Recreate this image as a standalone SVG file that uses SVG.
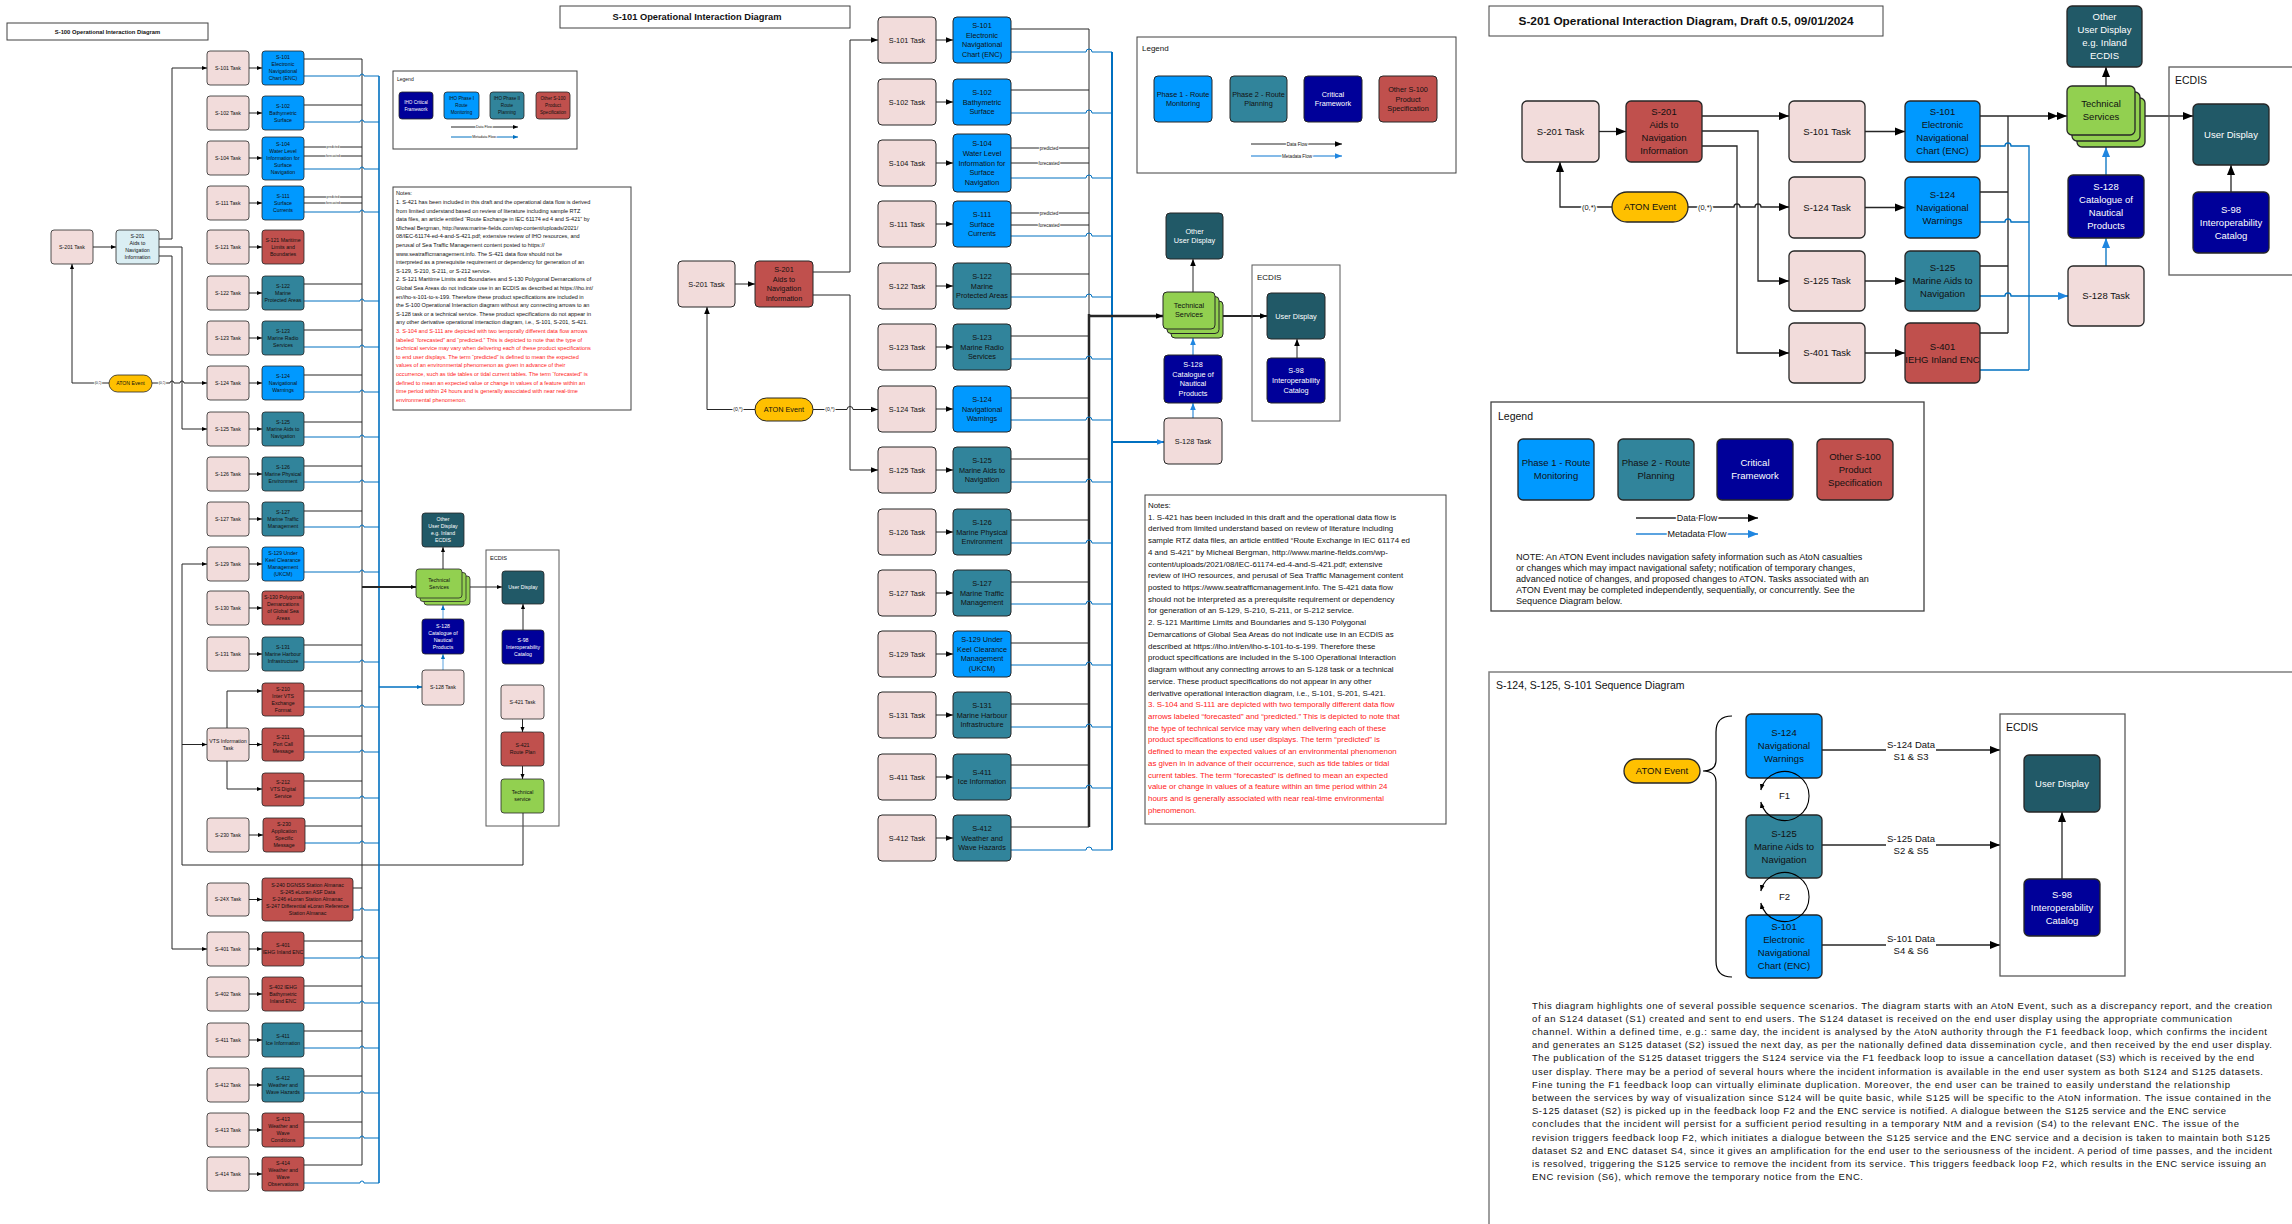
<svg xmlns="http://www.w3.org/2000/svg" width="2292" height="1224" viewBox="0 0 2292 1224">
<style>
text{font-family:"Liberation Sans",Arial,sans-serif;fill:#111}
.c{text-anchor:middle}
.w{fill:#fff}
.b{font-weight:bold}
.red{fill:#FF2020}
.tk{fill:#F2DCDB}.bu{fill:#0099FF}.te{fill:#31849B}.re{fill:#C0504D}.nv{fill:#000099}.dt{fill:#215967}.gr{fill:#92D050}.ye{fill:#FFC000}.lb{fill:#DAEEF3}
rect.n{stroke:#262626}
.L rect.n{stroke-width:.8}.M rect.n{stroke-width:1}.R rect.n{stroke-width:1.3}
.fr{fill:#fff;stroke:#404040}
.ec{fill:none;stroke:#595959}
.ln{fill:none;stroke:#262626}
.bl{fill:none;stroke:#0070C0}
.lbl{fill:none;stroke:#5BA3E0}
.halo{paint-order:stroke;stroke:#fff;stroke-linejoin:round}
.L text{font-size:5.2px}
.M text{font-size:7.3px}
.R text{font-size:9.5px}
</style>
<defs>
<marker id="aL" viewBox="0 0 10 10" refX="10" refY="5" markerWidth="5" markerHeight="5" markerUnits="userSpaceOnUse" orient="auto"><path d="M0,1L10,5L0,9z" fill="#000"/></marker>
<marker id="aLb" viewBox="0 0 10 10" refX="10" refY="5" markerWidth="5" markerHeight="5" markerUnits="userSpaceOnUse" orient="auto"><path d="M0,1L10,5L0,9z" fill="#0070C0"/></marker>
<marker id="aM" viewBox="0 0 10 10" refX="10" refY="5" markerWidth="7" markerHeight="7" markerUnits="userSpaceOnUse" orient="auto"><path d="M0,1L10,5L0,9z" fill="#000"/></marker>
<marker id="aMb" viewBox="0 0 10 10" refX="10" refY="5" markerWidth="7" markerHeight="7" markerUnits="userSpaceOnUse" orient="auto"><path d="M0,1L10,5L0,9z" fill="#1F86E0"/></marker>
<marker id="aR" viewBox="0 0 10 10" refX="10" refY="5" markerWidth="10" markerHeight="10" markerUnits="userSpaceOnUse" orient="auto"><path d="M0,1L10,5L0,9z" fill="#000"/></marker>
<marker id="aRb" viewBox="0 0 10 10" refX="10" refY="5" markerWidth="10" markerHeight="10" markerUnits="userSpaceOnUse" orient="auto"><path d="M0,1L10,5L0,9z" fill="#1F86E0"/></marker>
<marker id="aF" viewBox="0 0 10 10" refX="10" refY="5" markerWidth="6" markerHeight="6" markerUnits="userSpaceOnUse" orient="auto-start-reverse"><path d="M0,1L10,5L0,9z" fill="#000"/></marker>
</defs>
<rect width="2292" height="1224" fill="#fff"/>

<!-- ================= LEFT PANEL ================= -->
<g class="L">
<g id="connectors-left">
<path class="ln" d="M249,68H262" marker-end="url(#aL)"/>
<path class="ln" d="M249,113H262" marker-end="url(#aL)"/>
<path class="ln" d="M249,158H262" marker-end="url(#aL)"/>
<path class="ln" d="M249,203H262" marker-end="url(#aL)"/>
<path class="ln" d="M249,247H262" marker-end="url(#aL)"/>
<path class="ln" d="M249,293H262" marker-end="url(#aL)"/>
<path class="ln" d="M249,338H262" marker-end="url(#aL)"/>
<path class="ln" d="M249,383H262" marker-end="url(#aL)"/>
<path class="ln" d="M249,429H262" marker-end="url(#aL)"/>
<path class="ln" d="M249,474H262" marker-end="url(#aL)"/>
<path class="ln" d="M249,519H262" marker-end="url(#aL)"/>
<path class="ln" d="M249,564H262" marker-end="url(#aL)"/>
<path class="ln" d="M249,608H262" marker-end="url(#aL)"/>
<path class="ln" d="M249,654H262" marker-end="url(#aL)"/>
<path class="ln" d="M249,744.5H262" marker-end="url(#aL)"/>
<path class="ln" d="M249,835H263" marker-end="url(#aL)"/>
<path class="ln" d="M249,899.5H262" marker-end="url(#aL)"/>
<path class="ln" d="M249,949H262" marker-end="url(#aL)"/>
<path class="ln" d="M249,994H262" marker-end="url(#aL)"/>
<path class="ln" d="M249,1040H262" marker-end="url(#aL)"/>
<path class="ln" d="M249,1085H262" marker-end="url(#aL)"/>
<path class="ln" d="M249,1130H262" marker-end="url(#aL)"/>
<path class="ln" d="M249,1174H262" marker-end="url(#aL)"/>
<path class="ln" d="M227,728V691H262" marker-end="url(#aL)"/>
<path class="ln" d="M227,761V789H262" marker-end="url(#aL)"/>
<path class="ln" d="M93,247H116" marker-end="url(#aL)"/>
<path class="ln" d="M159,239H172V68H207" marker-end="url(#aL)"/>
<path class="ln" d="M159,247H182V429H207" marker-end="url(#aL)"/>
<path class="ln" d="M159,256H172V949H207" marker-end="url(#aL)"/>
<path class="ln" d="M109,383H72V264" marker-end="url(#aL)"/>
<path class="ln" d="M152,383H170a2,2 0 0 1 4,0H180a2,2 0 0 1 4,0H207" marker-end="url(#aL)"/>
<text class="c halo" x="98" y="384.3" style="font-size:3.5px;stroke-width:1.5px">(0,*)</text>
<text class="c halo" x="162" y="384.3" style="font-size:3.5px;stroke-width:1.5px">(0,*)</text>
<path class="ln" d="M523,813V865H182V564H207" marker-end="url(#aL)"/>
<path class="ln" d="M182,744.5H207" marker-end="url(#aL)"/>
<path class="ln" d="M304,59H362M304,105H362M304,147H362M304,156H362M304,197H362M304,203H362M304,284H362M304,330H362M304,375H362M304,422H362M304,466H362M304,511H362M304,645H362M304,691H362M304,736H362M304,781H362M305,826H362M353,888H362M304,941H362M304,986H362M304,1031H362M304,1076H362M304,1122H362M304,1165H362M362,59V1165" stroke-width="1"/>
<text class="c halo" x="333" y="148" style="font-size:3px;stroke-width:1.2px">predicted</text>
<text class="c halo" x="333" y="157" style="font-size:3px;stroke-width:1.2px">forecasted</text>
<text class="c halo" x="333" y="198" style="font-size:3px;stroke-width:1.2px">predicted</text>
<text class="c halo" x="333" y="204" style="font-size:3px;stroke-width:1.2px">forecasted</text>
<path class="bl" d="M304,76H360a2,2 0 0 1 4,0H379M304,122H360a2,2 0 0 1 4,0H379M304,169H360a2,2 0 0 1 4,0H379M304,212H360a2,2 0 0 1 4,0H379M304,301H360a2,2 0 0 1 4,0H379M304,347H360a2,2 0 0 1 4,0H379M304,392H360a2,2 0 0 1 4,0H379M304,437H360a2,2 0 0 1 4,0H379M304,482H360a2,2 0 0 1 4,0H379M304,527H360a2,2 0 0 1 4,0H379M304,572H360a2,2 0 0 1 4,0H379M304,662H360a2,2 0 0 1 4,0H379M304,707H360a2,2 0 0 1 4,0H379M304,752H360a2,2 0 0 1 4,0H379M304,798H360a2,2 0 0 1 4,0H379M305,843H360a2,2 0 0 1 4,0H379M353,910H360a2,2 0 0 1 4,0H379M304,958H360a2,2 0 0 1 4,0H379M304,1003H360a2,2 0 0 1 4,0H379M304,1048H360a2,2 0 0 1 4,0H379M304,1093H360a2,2 0 0 1 4,0H379M304,1138H360a2,2 0 0 1 4,0H379M304,1183H360a2,2 0 0 1 4,0H379"/>
<path class="bl" d="M379,76V1183" stroke-width="1.6"/>
<path class="ln" d="M362,587H416" stroke="#000" stroke-width="1.8" marker-end="url(#aL)"/>
<path class="bl" d="M379,687H422" stroke-width="1.4" marker-end="url(#aLb)"/>
<path class="ln" d="M443,569V547" stroke="#595959" marker-end="url(#aL)"/>
<path class="ln" d="M470,587H502" stroke="#595959" marker-end="url(#aL)"/>
<path class="ln" d="M523,630V604" marker-end="url(#aL)"/>
<path class="ln" d="M522.5,719V732" marker-end="url(#aL)"/>
<path class="ln" d="M522.5,766V779" marker-end="url(#aL)"/>
<path class="lbl" d="M443,670V654" marker-end="url(#aLb)"/>
<path class="lbl" d="M443,619V605" marker-end="url(#aLb)"/>
</g>

<g id="L-title"><rect class="fr" x="7" y="23" width="201" height="17"/><text class="c b" x="107.5" y="33.5" style="font-size:5.8px">S-100 Operational Interaction Diagram</text></g>

<g id="L-t201"><rect class="n tk" x="51" y="230" width="42" height="34" rx="3"/><text class="c" x="72" y="248.8">S-201 Task</text></g>
<g id="L-p201"><rect class="n lb" x="116" y="230" width="43" height="34" rx="3"/><text class="c" x="137.5" y="238.3">S-201<tspan x="137.5" dy="7">Aids to</tspan><tspan x="137.5" dy="7">Navigation</tspan><tspan x="137.5" dy="7">Information</tspan></text></g>
<g id="L-aton"><rect class="n ye" x="109" y="375" width="43" height="17" rx="8.5"/><text class="c" x="130.5" y="385.3">ATON Event</text></g>

<g id="L-t101"><rect class="n tk" x="207" y="51" width="42" height="34" rx="3"/><text class="c" x="228" y="69.8">S-101 Task</text></g>
<g id="L-t102"><rect class="n tk" x="207" y="96" width="42" height="34" rx="3"/><text class="c" x="228" y="114.8">S-102 Task</text></g>
<g id="L-t104"><rect class="n tk" x="207" y="141" width="42" height="34" rx="3"/><text class="c" x="228" y="159.8">S-104 Task</text></g>
<g id="L-t111"><rect class="n tk" x="207" y="186" width="42" height="34" rx="3"/><text class="c" x="228" y="204.8">S-111 Task</text></g>
<g id="L-t121"><rect class="n tk" x="207" y="230" width="42" height="34" rx="3"/><text class="c" x="228" y="248.8">S-121 Task</text></g>
<g id="L-t122"><rect class="n tk" x="207" y="276" width="42" height="34" rx="3"/><text class="c" x="228" y="294.8">S-122 Task</text></g>
<g id="L-t123"><rect class="n tk" x="207" y="321" width="42" height="34" rx="3"/><text class="c" x="228" y="339.8">S-123 Task</text></g>
<g id="L-t124"><rect class="n tk" x="207" y="366" width="42" height="34" rx="3"/><text class="c" x="228" y="384.8">S-124 Task</text></g>
<g id="L-t125"><rect class="n tk" x="207" y="412" width="42" height="34" rx="3"/><text class="c" x="228" y="430.8">S-125 Task</text></g>
<g id="L-t126"><rect class="n tk" x="207" y="457" width="42" height="34" rx="3"/><text class="c" x="228" y="475.8">S-126 Task</text></g>
<g id="L-t127"><rect class="n tk" x="207" y="502" width="42" height="34" rx="3"/><text class="c" x="228" y="520.8">S-127 Task</text></g>
<g id="L-t129"><rect class="n tk" x="207" y="547" width="42" height="34" rx="3"/><text class="c" x="228" y="565.8">S-129 Task</text></g>
<g id="L-t130"><rect class="n tk" x="207" y="591" width="42" height="34" rx="3"/><text class="c" x="228" y="609.8">S-130 Task</text></g>
<g id="L-t131"><rect class="n tk" x="207" y="637" width="42" height="34" rx="3"/><text class="c" x="228" y="655.8">S-131 Task</text></g>
<g id="L-tvts"><rect class="n tk" x="207" y="728" width="42" height="33" rx="3"/><text class="c" x="228" y="742.8">VTS Information<tspan x="228" dy="7">Task</tspan></text></g>
<g id="L-t230"><rect class="n tk" x="207" y="818" width="42" height="34" rx="3"/><text class="c" x="228" y="836.8">S-230 Task</text></g>
<g id="L-t24x"><rect class="n tk" x="207" y="883" width="42" height="33" rx="3"/><text class="c" x="228" y="901.3">S-24X Task</text></g>
<g id="L-t401"><rect class="n tk" x="207" y="932" width="42" height="34" rx="3"/><text class="c" x="228" y="950.8">S-401 Task</text></g>
<g id="L-t402"><rect class="n tk" x="207" y="977" width="42" height="34" rx="3"/><text class="c" x="228" y="995.8">S-402 Task</text></g>
<g id="L-t411"><rect class="n tk" x="207" y="1023" width="42" height="34" rx="3"/><text class="c" x="228" y="1041.8">S-411 Task</text></g>
<g id="L-t412"><rect class="n tk" x="207" y="1068" width="42" height="34" rx="3"/><text class="c" x="228" y="1086.8">S-412 Task</text></g>
<g id="L-t413"><rect class="n tk" x="207" y="1113" width="42" height="34" rx="3"/><text class="c" x="228" y="1131.8">S-413 Task</text></g>
<g id="L-t414"><rect class="n tk" x="207" y="1157" width="42" height="34" rx="3"/><text class="c" x="228" y="1175.8">S-414 Task</text></g>

<g id="L-p101"><rect class="n bu" x="262" y="51" width="42" height="34" rx="3"/><text class="c" x="283" y="59.3">S-101<tspan x="283" dy="7">Electronic</tspan><tspan x="283" dy="7">Navigational</tspan><tspan x="283" dy="7">Chart (ENC)</tspan></text></g>
<g id="L-p102"><rect class="n bu" x="262" y="96" width="42" height="34" rx="3"/><text class="c" x="283" y="107.8">S-102<tspan x="283" dy="7">Bathymetric</tspan><tspan x="283" dy="7">Surface</tspan></text></g>
<g id="L-p104"><rect class="n bu" x="262" y="137" width="42" height="43" rx="3"/><text class="c" x="283" y="146.3">S-104<tspan x="283" dy="7">Water Level</tspan><tspan x="283" dy="7">Information for</tspan><tspan x="283" dy="7">Surface</tspan><tspan x="283" dy="7">Navigation</tspan></text></g>
<g id="L-p111"><rect class="n bu" x="262" y="186" width="42" height="34" rx="3"/><text class="c" x="283" y="197.8">S-111<tspan x="283" dy="7">Surface</tspan><tspan x="283" dy="7">Currents</tspan></text></g>
<g id="L-p121"><rect class="n re" x="262" y="230" width="42" height="34" rx="3"/><text class="c" x="283" y="241.8">S-121 Maritime<tspan x="283" dy="7">Limits and</tspan><tspan x="283" dy="7">Boundaries</tspan></text></g>
<g id="L-p122"><rect class="n te" x="262" y="276" width="42" height="34" rx="3"/><text class="c" x="283" y="287.8">S-122<tspan x="283" dy="7">Marine</tspan><tspan x="283" dy="7">Protected Areas</tspan></text></g>
<g id="L-p123"><rect class="n te" x="262" y="321" width="42" height="34" rx="3"/><text class="c" x="283" y="332.8">S-123<tspan x="283" dy="7">Marine Radio</tspan><tspan x="283" dy="7">Services</tspan></text></g>
<g id="L-p124"><rect class="n bu" x="262" y="366" width="42" height="34" rx="3"/><text class="c" x="283" y="377.8">S-124<tspan x="283" dy="7">Navigational</tspan><tspan x="283" dy="7">Warnings</tspan></text></g>
<g id="L-p125"><rect class="n te" x="262" y="412" width="42" height="34" rx="3"/><text class="c" x="283" y="423.8">S-125<tspan x="283" dy="7">Marine Aids to</tspan><tspan x="283" dy="7">Navigation</tspan></text></g>
<g id="L-p126"><rect class="n te" x="262" y="457" width="42" height="34" rx="3"/><text class="c" x="283" y="468.8">S-126<tspan x="283" dy="7">Marine Physical</tspan><tspan x="283" dy="7">Environment</tspan></text></g>
<g id="L-p127"><rect class="n te" x="262" y="502" width="42" height="34" rx="3"/><text class="c" x="283" y="513.8">S-127<tspan x="283" dy="7">Marine Traffic</tspan><tspan x="283" dy="7">Management</tspan></text></g>
<g id="L-p129"><rect class="n bu" x="262" y="547" width="42" height="34" rx="3"/><text class="c" x="283" y="555.3">S-129 Under<tspan x="283" dy="7">Keel Clearance</tspan><tspan x="283" dy="7">Management</tspan><tspan x="283" dy="7">(UKCM)</tspan></text></g>
<g id="L-p130"><rect class="n re" x="262" y="591" width="42" height="34" rx="3"/><text class="c" x="283" y="599.3">S-130 Polygonal<tspan x="283" dy="7">Demarcations</tspan><tspan x="283" dy="7">of Global Sea</tspan><tspan x="283" dy="7">Areas</tspan></text></g>
<g id="L-p131"><rect class="n te" x="262" y="637" width="42" height="34" rx="3"/><text class="c" x="283" y="648.8">S-131<tspan x="283" dy="7">Marine Harbour</tspan><tspan x="283" dy="7">Infrastructure</tspan></text></g>
<g id="L-p210"><rect class="n re" x="262" y="683" width="42" height="33" rx="3"/><text class="c" x="283" y="690.8">S-210<tspan x="283" dy="7">Inter VTS</tspan><tspan x="283" dy="7">Exchange</tspan><tspan x="283" dy="7">Format</tspan></text></g>
<g id="L-p211"><rect class="n re" x="262" y="728" width="42" height="33" rx="3"/><text class="c" x="283" y="739.3">S-211<tspan x="283" dy="7">Port Call</tspan><tspan x="283" dy="7">Message</tspan></text></g>
<g id="L-p212"><rect class="n re" x="262" y="773" width="42" height="33" rx="3"/><text class="c" x="283" y="784.3">S-212<tspan x="283" dy="7">VTS Digital</tspan><tspan x="283" dy="7">Service</tspan></text></g>
<g id="L-p230"><rect class="n re" x="263" y="818" width="42" height="34" rx="3"/><text class="c" x="284" y="826.3">S-230<tspan x="284" dy="7">Application</tspan><tspan x="284" dy="7">Specific</tspan><tspan x="284" dy="7">Message</tspan></text></g>
<g id="L-p24x"><rect class="n re" x="262" y="878" width="91" height="43" rx="3"/><text class="c" x="307.5" y="887.3">S-240 DGNSS Station Almanac<tspan x="307.5" dy="7">S-245 eLoran ASF Data</tspan><tspan x="307.5" dy="7">S-246 eLoran Station Almanac</tspan><tspan x="307.5" dy="7">S-247 Differential eLoran Reference</tspan><tspan x="307.5" dy="7">Station Almanac</tspan></text></g>
<g id="L-p401"><rect class="n re" x="262" y="932" width="42" height="34" rx="3"/><text class="c" x="283" y="947.3">S-401<tspan x="283" dy="7">IEHG Inland ENC</tspan></text></g>
<g id="L-p402"><rect class="n re" x="262" y="977" width="42" height="34" rx="3"/><text class="c" x="283" y="988.8">S-402 IEHG<tspan x="283" dy="7">Bathymetric</tspan><tspan x="283" dy="7">Inland ENC</tspan></text></g>
<g id="L-p411"><rect class="n te" x="262" y="1023" width="42" height="34" rx="3"/><text class="c" x="283" y="1038.3">S-411<tspan x="283" dy="7">Ice Information</tspan></text></g>
<g id="L-p412"><rect class="n te" x="262" y="1068" width="42" height="34" rx="3"/><text class="c" x="283" y="1079.8">S-412<tspan x="283" dy="7">Weather and</tspan><tspan x="283" dy="7">Wave Hazards</tspan></text></g>
<g id="L-p413"><rect class="n re" x="262" y="1113" width="42" height="34" rx="3"/><text class="c" x="283" y="1121.3">S-413<tspan x="283" dy="7">Weather and</tspan><tspan x="283" dy="7">Wave</tspan><tspan x="283" dy="7">Conditions</tspan></text></g>
<g id="L-p414"><rect class="n re" x="262" y="1157" width="42" height="34" rx="3"/><text class="c" x="283" y="1165.3">S-414<tspan x="283" dy="7">Weather and</tspan><tspan x="283" dy="7">Wave</tspan><tspan x="283" dy="7">Observations</tspan></text></g>

<g id="L-legend">
<rect class="fr" x="393" y="71" width="184" height="78"/>
<text x="397" y="80.5" style="font-size:5px">Legend</text>
<rect class="n nv" x="399" y="92" width="34" height="27" rx="3"/><text class="c w" x="416" y="103.6" style="font-size:4.6px">IHO Critical<tspan x="416" dy="7">Framework</tspan></text>
<rect class="n bu" x="444" y="92" width="35" height="27" rx="3"/><text class="c" x="461.5" y="100.1" style="font-size:4.6px">IHO Phase I<tspan x="461.5" dy="7">Route</tspan><tspan x="461.5" dy="7">Monitoring</tspan></text>
<rect class="n te" x="490" y="92" width="34" height="27" rx="3"/><text class="c" x="507" y="100.1" style="font-size:4.6px">IHO Phase II<tspan x="507" dy="7">Route</tspan><tspan x="507" dy="7">Planning</tspan></text>
<rect class="n re" x="536" y="92" width="34" height="27" rx="3"/><text class="c" x="553" y="100.1" style="font-size:4.6px">Other S-100<tspan x="553" dy="7">Product</tspan><tspan x="553" dy="7">Specification</tspan></text>
<path class="ln" d="M451,127H518" marker-end="url(#aL)"/>
<text class="c halo" x="484" y="128.2" style="font-size:3.6px;stroke-width:1.5px">Data Flow</text>
<path class="bl" d="M451,137H518" marker-end="url(#aLb)"/>
<text class="c halo" x="484" y="138.2" style="font-size:3.6px;stroke-width:1.5px">Metadata Flow</text>
</g>

<g id="L-notes">
<rect class="fr" x="393" y="187" width="238" height="223"/>
<text style="font-size:5.55px">
<tspan x="396" y="195.3">Notes:</tspan>
<tspan x="396" y="203.9">1. S-421 has been included in this draft and the operational data flow is derived</tspan>
<tspan x="396" y="212.5">from limited understand based on review of literature including sample RTZ</tspan>
<tspan x="396" y="221.1">data files, an article entitled “Route Exchange in IEC 61174 ed 4 and S-421” by</tspan>
<tspan x="396" y="229.7">Micheal Bergman, http://www.marine-fields.com/wp-content/uploads/2021/</tspan>
<tspan x="396" y="238.3">08/IEC-61174-ed-4-and-S-421.pdf; extensive review of IHO resources, and</tspan>
<tspan x="396" y="246.9">perusal of Sea Traffic Management content posted to https://</tspan>
<tspan x="396" y="255.5">www.seatrafficmanagement.info. The S-421 data flow should not be</tspan>
<tspan x="396" y="264.1">interpreted as a prerequisite requirement  or dependency for generation of an</tspan>
<tspan x="396" y="272.7">S-129, S-210, S-211, or S-212 service.</tspan>
<tspan x="396" y="281.3">2. S-121 Maritime Limits and Boundaries and S-130 Polygonal Demarcations of</tspan>
<tspan x="396" y="289.9">Global Sea Areas do not indicate use in an ECDIS as described at https://iho.int/</tspan>
<tspan x="396" y="298.5">en/iho-s-101-to-s-199.  Therefore these product specifications are included in</tspan>
<tspan x="396" y="307.1">the S-100 Operational Interaction diagram without any connecting arrows to an</tspan>
<tspan x="396" y="315.7">S-128 task or a technical service.  These product specifications do not appear in</tspan>
<tspan x="396" y="324.3">any other derivative operational interaction diagram, i.e., S-101, S-201, S-421.</tspan>
</text>
<text class="red" style="font-size:5.55px">
<tspan x="396" y="332.9">3. S-104 and S-111 are depicted with two temporally different data flow arrows</tspan>
<tspan x="396" y="341.5">labeled “forecasted” and “predicted.” This is depicted to note that the type of</tspan>
<tspan x="396" y="350.1">technical service may vary when delivering each of these product specifications</tspan>
<tspan x="396" y="358.7">to end user displays.  The term “predicted” is defined to mean the expected</tspan>
<tspan x="396" y="367.3">values of an environmental phenomenon as given in advance of their</tspan>
<tspan x="396" y="375.9">occurrence, such as tide tables or tidal current tables.  The term “forecasted” is</tspan>
<tspan x="396" y="384.5">defined to mean an expected value or change in values of a feature within an</tspan>
<tspan x="396" y="393.1">time period within 24 hours and is generally associated with near real-time</tspan>
<tspan x="396" y="401.7">environmental phenomenon.</tspan>
</text>
</g>

<g id="L-otherud"><rect class="n dt" x="422" y="513" width="42" height="34" rx="3"/><text class="c w" x="443" y="521.3">Other<tspan x="443" dy="7">User Display</tspan><tspan x="443" dy="7">e.g. Inland</tspan><tspan x="443" dy="7">ECDIS</tspan></text></g>
<g id="L-ts"><rect class="n gr" x="424" y="576" width="46" height="29" rx="3"/><rect class="n gr" x="420" y="572.5" width="46" height="29" rx="3"/><rect class="n gr" x="416" y="569" width="46" height="29" rx="3"/><text class="c" x="439" y="582">Technical<tspan x="439" dy="7">Services</tspan></text></g>
<g id="L-s128cat"><rect class="n nv" x="422" y="619" width="42" height="35" rx="3"/><text class="c w" x="443" y="627.8">S-128<tspan x="443" dy="7">Catalogue of</tspan><tspan x="443" dy="7">Nautical</tspan><tspan x="443" dy="7">Products</tspan></text></g>
<g id="L-s128task"><rect class="n tk" x="422" y="670" width="42" height="35" rx="3"/><text class="c" x="443" y="689.3">S-128 Task</text></g>
<g id="L-ecdis"><rect class="ec" x="486" y="550" width="73" height="276"/><text x="490" y="560" style="font-size:5.6px">ECDIS</text></g>
<g id="L-ud"><rect class="n dt" x="502" y="571" width="42" height="33" rx="3"/><text class="c w" x="523" y="589.3">User Display</text></g>
<g id="L-s98"><rect class="n nv" x="502" y="630" width="42" height="34" rx="3"/><text class="c w" x="523" y="641.8">S-98<tspan x="523" dy="7">Interoperability</tspan><tspan x="523" dy="7">Catalog</tspan></text></g>
<g id="L-t421"><rect class="n tk" x="501" y="685" width="43" height="34" rx="3"/><text class="c" x="522.5" y="703.8">S-421 Task</text></g>
<g id="L-p421"><rect class="n re" x="501" y="732" width="43" height="34" rx="3"/><text class="c" x="522.5" y="747.3">S-421<tspan x="522.5" dy="7">Route Plan</tspan></text></g>
<g id="L-tsvc"><rect class="n gr" x="501" y="779" width="43" height="34" rx="3"/><text class="c" x="522.5" y="794.3">Technical<tspan x="522.5" dy="7">service</tspan></text></g>
</g>

<!-- ================= MIDDLE PANEL ================= -->
<g class="M">
<g id="connectors-middle">
<path class="ln" d="M936,40H953" marker-end="url(#aM)"/>
<path class="ln" d="M936,102H953" marker-end="url(#aM)"/>
<path class="ln" d="M936,163H953" marker-end="url(#aM)"/>
<path class="ln" d="M936,224H953" marker-end="url(#aM)"/>
<path class="ln" d="M936,286H953" marker-end="url(#aM)"/>
<path class="ln" d="M936,347H953" marker-end="url(#aM)"/>
<path class="ln" d="M936,409H953" marker-end="url(#aM)"/>
<path class="ln" d="M936,470H953" marker-end="url(#aM)"/>
<path class="ln" d="M936,532H953" marker-end="url(#aM)"/>
<path class="ln" d="M936,593H953" marker-end="url(#aM)"/>
<path class="ln" d="M936,654H953" marker-end="url(#aM)"/>
<path class="ln" d="M936,715H953" marker-end="url(#aM)"/>
<path class="ln" d="M936,777H953" marker-end="url(#aM)"/>
<path class="ln" d="M936,838H953" marker-end="url(#aM)"/>
<path class="ln" d="M735,284H755" marker-end="url(#aM)"/>
<path class="ln" d="M813,272H850V40H878" marker-end="url(#aM)"/>
<path class="ln" d="M813,295H850V470H878" marker-end="url(#aM)"/>
<path class="ln" d="M755,409.5H707V307" marker-end="url(#aM)"/>
<path class="ln" d="M813,409.5H847a3,3 0 0 1 6,0H878" marker-end="url(#aM)"/>
<text class="c halo" x="738" y="411" style="font-size:5px;stroke-width:2px">(0,*)</text>
<text class="c halo" x="830" y="411" style="font-size:5px;stroke-width:2px">(0,*)</text>
<path class="ln" d="M1011,29H1089M1011,90H1089M1011,148H1089M1011,163H1089M1011,213H1089M1011,225H1089M1011,274H1089M1011,336H1089M1011,398H1089M1011,459H1089M1011,520H1089M1011,582H1089M1011,643H1089M1011,704H1089M1011,765H1089M1011,827H1089M1089,29V316"/>
<path class="ln" d="M1089,314V827" stroke="#000" stroke-width="2.5"/>
<text class="c halo" x="1049" y="149.5" style="font-size:4.5px;stroke-width:1.6px">predicted</text>
<text class="c halo" x="1049" y="164.5" style="font-size:4.5px;stroke-width:1.6px">forecasted</text>
<text class="c halo" x="1049" y="214.5" style="font-size:4.5px;stroke-width:1.6px">predicted</text>
<text class="c halo" x="1049" y="226.5" style="font-size:4.5px;stroke-width:1.6px">forecasted</text>
<path class="bl" d="M1011,52H1086a3,3 0 0 1 6,0H1112M1011,113H1086a3,3 0 0 1 6,0H1112M1011,178H1086a3,3 0 0 1 6,0H1112M1011,236H1086a3,3 0 0 1 6,0H1112M1011,297H1086a3,3 0 0 1 6,0H1112M1011,359H1086a3,3 0 0 1 6,0H1112M1011,420H1086a3,3 0 0 1 6,0H1112M1011,482H1086a3,3 0 0 1 6,0H1112M1011,543H1086a3,3 0 0 1 6,0H1112M1011,604H1086a3,3 0 0 1 6,0H1112M1011,665H1086a3,3 0 0 1 6,0H1112M1011,727H1086a3,3 0 0 1 6,0H1112M1011,788H1086a3,3 0 0 1 6,0H1112M1011,850H1086a3,3 0 0 1 6,0H1112"/>
<path class="bl" d="M1112,52V850" stroke-width="2"/>
<path class="ln" d="M1089,316H1163" stroke="#000" stroke-width="2.5" marker-end="url(#aM)"/>
<path class="bl" d="M1112,442H1164" stroke-width="2" marker-end="url(#aMb)"/>
<path class="ln" d="M1193,292V259" marker-end="url(#aM)"/>
<path class="ln" d="M1223,316H1267" stroke="#000" stroke-width="2" marker-end="url(#aM)"/>
<path class="ln" d="M1297,358V339" marker-end="url(#aM)"/>
<path class="lbl" d="M1193,418V403" stroke-width="1.5" marker-end="url(#aMb)"/>
<path class="lbl" d="M1193,355V338" stroke-width="1.5" marker-end="url(#aMb)"/>
</g>

<g id="M-title"><rect class="fr" x="560" y="6" width="290" height="22" stroke="#000"/><text class="c b" x="697" y="20.3" style="font-size:9.3px">S-101 Operational Interaction Diagram</text></g>

<g id="M-t201"><rect class="n tk" x="678" y="261" width="57" height="46" rx="4"/><text class="c" x="706.5" y="286.5">S-201 Task</text></g>
<g id="M-p201"><rect class="n re" x="755" y="261" width="58" height="46" rx="4"/><text class="c" x="784" y="271.95">S-201<tspan x="784" dy="9.7">Aids to</tspan><tspan x="784" dy="9.7">Navigation</tspan><tspan x="784" dy="9.7">Information</tspan></text></g>
<g id="M-aton"><rect class="n ye" x="755" y="398" width="58" height="23" rx="11.5"/><text class="c" x="784" y="412">ATON Event</text></g>

<g id="M-t101"><rect class="n tk" x="878" y="17" width="58" height="46" rx="4"/><text class="c" x="907" y="42.5">S-101 Task</text></g>
<g id="M-t102"><rect class="n tk" x="878" y="79" width="58" height="46" rx="4"/><text class="c" x="907" y="104.5">S-102 Task</text></g>
<g id="M-t104"><rect class="n tk" x="878" y="140" width="58" height="46" rx="4"/><text class="c" x="907" y="165.5">S-104 Task</text></g>
<g id="M-t111"><rect class="n tk" x="878" y="201" width="58" height="46" rx="4"/><text class="c" x="907" y="226.5">S-111 Task</text></g>
<g id="M-t122"><rect class="n tk" x="878" y="263" width="58" height="46" rx="4"/><text class="c" x="907" y="288.5">S-122 Task</text></g>
<g id="M-t123"><rect class="n tk" x="878" y="324" width="58" height="46" rx="4"/><text class="c" x="907" y="349.5">S-123 Task</text></g>
<g id="M-t124"><rect class="n tk" x="878" y="386" width="58" height="46" rx="4"/><text class="c" x="907" y="411.5">S-124 Task</text></g>
<g id="M-t125"><rect class="n tk" x="878" y="447" width="58" height="46" rx="4"/><text class="c" x="907" y="472.5">S-125 Task</text></g>
<g id="M-t126"><rect class="n tk" x="878" y="509" width="58" height="46" rx="4"/><text class="c" x="907" y="534.5">S-126 Task</text></g>
<g id="M-t127"><rect class="n tk" x="878" y="570" width="58" height="46" rx="4"/><text class="c" x="907" y="595.5">S-127 Task</text></g>
<g id="M-t129"><rect class="n tk" x="878" y="631" width="58" height="46" rx="4"/><text class="c" x="907" y="656.5">S-129 Task</text></g>
<g id="M-t131"><rect class="n tk" x="878" y="692" width="58" height="46" rx="4"/><text class="c" x="907" y="717.5">S-131 Task</text></g>
<g id="M-t411"><rect class="n tk" x="878" y="754" width="58" height="46" rx="4"/><text class="c" x="907" y="779.5">S-411 Task</text></g>
<g id="M-t412"><rect class="n tk" x="878" y="815" width="58" height="46" rx="4"/><text class="c" x="907" y="840.5">S-412 Task</text></g>

<g id="M-p101"><rect class="n bu" x="953" y="17" width="58" height="46" rx="4"/><text class="c" x="982" y="27.95">S-101<tspan x="982" dy="9.7">Electronic</tspan><tspan x="982" dy="9.7">Navigational</tspan><tspan x="982" dy="9.7">Chart (ENC)</tspan></text></g>
<g id="M-p102"><rect class="n bu" x="953" y="79" width="58" height="46" rx="4"/><text class="c" x="982" y="94.8">S-102<tspan x="982" dy="9.7">Bathymetric</tspan><tspan x="982" dy="9.7">Surface</tspan></text></g>
<g id="M-p104"><rect class="n bu" x="953" y="134" width="58" height="58" rx="4"/><text class="c" x="982" y="146.1">S-104<tspan x="982" dy="9.7">Water Level</tspan><tspan x="982" dy="9.7">Information for</tspan><tspan x="982" dy="9.7">Surface</tspan><tspan x="982" dy="9.7">Navigation</tspan></text></g>
<g id="M-p111"><rect class="n bu" x="953" y="201" width="58" height="46" rx="4"/><text class="c" x="982" y="216.8">S-111<tspan x="982" dy="9.7">Surface</tspan><tspan x="982" dy="9.7">Currents</tspan></text></g>
<g id="M-p122"><rect class="n te" x="953" y="263" width="58" height="46" rx="4"/><text class="c" x="982" y="278.8">S-122<tspan x="982" dy="9.7">Marine</tspan><tspan x="982" dy="9.7">Protected Areas</tspan></text></g>
<g id="M-p123"><rect class="n te" x="953" y="324" width="58" height="46" rx="4"/><text class="c" x="982" y="339.8">S-123<tspan x="982" dy="9.7">Marine Radio</tspan><tspan x="982" dy="9.7">Services</tspan></text></g>
<g id="M-p124"><rect class="n bu" x="953" y="386" width="58" height="46" rx="4"/><text class="c" x="982" y="401.8">S-124<tspan x="982" dy="9.7">Navigational</tspan><tspan x="982" dy="9.7">Warnings</tspan></text></g>
<g id="M-p125"><rect class="n te" x="953" y="447" width="58" height="46" rx="4"/><text class="c" x="982" y="462.8">S-125<tspan x="982" dy="9.7">Marine Aids to</tspan><tspan x="982" dy="9.7">Navigation</tspan></text></g>
<g id="M-p126"><rect class="n te" x="953" y="509" width="58" height="46" rx="4"/><text class="c" x="982" y="524.8">S-126<tspan x="982" dy="9.7">Marine Physical</tspan><tspan x="982" dy="9.7">Environment</tspan></text></g>
<g id="M-p127"><rect class="n te" x="953" y="570" width="58" height="46" rx="4"/><text class="c" x="982" y="585.8">S-127<tspan x="982" dy="9.7">Marine Traffic</tspan><tspan x="982" dy="9.7">Management</tspan></text></g>
<g id="M-p129"><rect class="n bu" x="953" y="631" width="58" height="46" rx="4"/><text class="c" x="982" y="641.95">S-129 Under<tspan x="982" dy="9.7">Keel Clearance</tspan><tspan x="982" dy="9.7">Management</tspan><tspan x="982" dy="9.7">(UKCM)</tspan></text></g>
<g id="M-p131"><rect class="n te" x="953" y="692" width="58" height="46" rx="4"/><text class="c" x="982" y="707.8">S-131<tspan x="982" dy="9.7">Marine Harbour</tspan><tspan x="982" dy="9.7">Infrastructure</tspan></text></g>
<g id="M-p411"><rect class="n te" x="953" y="754" width="58" height="46" rx="4"/><text class="c" x="982" y="774.65">S-411<tspan x="982" dy="9.7">Ice Information</tspan></text></g>
<g id="M-p412"><rect class="n te" x="953" y="815" width="58" height="46" rx="4"/><text class="c" x="982" y="830.8">S-412<tspan x="982" dy="9.7">Weather and</tspan><tspan x="982" dy="9.7">Wave Hazards</tspan></text></g>

<g id="M-legend">
<rect class="fr" x="1137" y="37" width="319" height="136"/>
<text x="1142" y="51" style="font-size:8px">Legend</text>
<rect class="n bu" x="1154" y="76" width="58" height="46" rx="4"/><text class="c" x="1183" y="96.65">Phase 1 - Route<tspan x="1183" dy="9.7">Monitoring</tspan></text>
<rect class="n te" x="1230" y="76" width="57" height="46" rx="4"/><text class="c" x="1258.5" y="96.65">Phase 2 - Route<tspan x="1258.5" dy="9.7">Planning</tspan></text>
<rect class="n nv" x="1304" y="76" width="58" height="46" rx="4"/><text class="c w" x="1333" y="96.65">Critical<tspan x="1333" dy="9.7">Framework</tspan></text>
<rect class="n re" x="1379" y="76" width="58" height="46" rx="4"/><text class="c" x="1408" y="91.8">Other S-100<tspan x="1408" dy="9.7">Product</tspan><tspan x="1408" dy="9.7">Specification</tspan></text>
<path class="ln" d="M1251,144H1342" marker-end="url(#aM)"/>
<text class="c halo" x="1297" y="145.6" style="font-size:4.6px;stroke-width:2px">Data Flow</text>
<path class="lbl" d="M1251,156H1342" stroke-width="1.5" marker-end="url(#aMb)"/>
<text class="c halo" x="1297" y="157.6" style="font-size:4.6px;stroke-width:2px">Metadata Flow</text>
</g>

<g id="M-otherud"><rect class="n dt" x="1166" y="213" width="57" height="46" rx="4"/><text class="c w" x="1194.5" y="233.65">Other<tspan x="1194.5" dy="9.7">User Display</tspan></text></g>
<g id="M-ts"><rect class="n gr" x="1171" y="301" width="52" height="37" rx="4"/><rect class="n gr" x="1167" y="296.5" width="52" height="37" rx="4"/><rect class="n gr" x="1163" y="292" width="52" height="37" rx="4"/><text class="c" x="1189" y="307.65">Technical<tspan x="1189" dy="9.7">Services</tspan></text></g>
<g id="M-s128cat"><rect class="n nv" x="1164" y="355" width="58" height="48" rx="4"/><text class="c w" x="1193" y="366.95">S-128<tspan x="1193" dy="9.7">Catalogue of</tspan><tspan x="1193" dy="9.7">Nautical</tspan><tspan x="1193" dy="9.7">Products</tspan></text></g>
<g id="M-s128task"><rect class="n tk" x="1164" y="418" width="58" height="46" rx="4"/><text class="c" x="1193" y="443.5">S-128 Task</text></g>
<g id="M-ecdis"><rect class="ec" x="1252" y="265" width="88" height="156"/><text x="1257" y="280" style="font-size:8px">ECDIS</text></g>
<g id="M-ud"><rect class="n dt" x="1267" y="293" width="58" height="46" rx="4"/><text class="c w" x="1296" y="318.5">User Display</text></g>
<g id="M-s98"><rect class="n nv" x="1267" y="358" width="58" height="45" rx="4"/><text class="c w" x="1296" y="373.3">S-98<tspan x="1296" dy="9.7">Interoperability</tspan><tspan x="1296" dy="9.7">Catalog</tspan></text></g>

<g id="M-notes">
<rect class="fr" x="1145" y="495" width="301" height="329" stroke="#000"/>
<text style="font-size:7.9px">
<tspan x="1148" y="507.8">Notes:</tspan>
<tspan x="1148" y="519.5">1. S-421 has been included in this draft and the operational data flow is</tspan>
<tspan x="1148" y="531.3">derived from limited understand based on review of literature including</tspan>
<tspan x="1148" y="543">sample RTZ data files, an article entitled “Route Exchange in IEC 61174 ed</tspan>
<tspan x="1148" y="554.7">4 and S-421” by Micheal Bergman, http://www.marine-fields.com/wp-</tspan>
<tspan x="1148" y="566.5">content/uploads/2021/08/IEC-61174-ed-4-and-S-421.pdf; extensive</tspan>
<tspan x="1148" y="578.2">review of IHO resources, and perusal of Sea Traffic Management content</tspan>
<tspan x="1148" y="589.9">posted to https://www.seatrafficmanagement.info. The S-421 data flow</tspan>
<tspan x="1148" y="601.6">should not be interpreted as a prerequisite requirement  or dependency</tspan>
<tspan x="1148" y="613.4">for generation of an S-129, S-210, S-211, or S-212 service.</tspan>
<tspan x="1148" y="625.1">2. S-121 Maritime Limits and Boundaries and S-130 Polygonal</tspan>
<tspan x="1148" y="636.8">Demarcations of Global Sea Areas do not indicate use in an ECDIS as</tspan>
<tspan x="1148" y="648.6">described at https://iho.int/en/iho-s-101-to-s-199.  Therefore these</tspan>
<tspan x="1148" y="660.3">product specifications are included in the S-100 Operational Interaction</tspan>
<tspan x="1148" y="672">diagram without any connecting arrows to an S-128 task or a technical</tspan>
<tspan x="1148" y="683.8">service.  These product specifications do not appear in any other</tspan>
<tspan x="1148" y="695.5">derivative operational interaction diagram, i.e., S-101, S-201, S-421.</tspan>
</text>
<text class="red" style="font-size:7.9px">
<tspan x="1148" y="707.2">3. S-104 and S-111 are depicted with two temporally different data flow</tspan>
<tspan x="1148" y="718.9">arrows labeled “forecasted” and “predicted.” This is depicted to note that</tspan>
<tspan x="1148" y="730.7">the type of technical service may vary when delivering each of these</tspan>
<tspan x="1148" y="742.4">product specifications to end user displays.  The term “predicted” is</tspan>
<tspan x="1148" y="754.1">defined to mean the expected values of an environmental phenomenon</tspan>
<tspan x="1148" y="765.9">as given in in advance of their occurrence, such as tide tables or tidal</tspan>
<tspan x="1148" y="777.6">current tables.  The term “forecasted” is defined to mean an expected</tspan>
<tspan x="1148" y="789.3">value or change in values of a feature within an time period within 24</tspan>
<tspan x="1148" y="801.1">hours and is generally associated with near real-time environmental</tspan>
<tspan x="1148" y="812.8">phenomenon.</tspan>
</text>
</g>
</g>

<!-- ================= RIGHT PANEL ================= -->
<g class="R">
<g id="connectors-right" stroke-width="1.3">
<path class="ln" d="M1599,131.5H1626" stroke="#404040" marker-end="url(#aR)"/>
<path class="ln" d="M1702,116H1789" stroke="#404040" marker-end="url(#aR)"/>
<path class="ln" d="M1702,131H1758V281H1789" stroke="#404040" marker-end="url(#aR)"/>
<path class="ln" d="M1702,146H1737V353H1789" stroke="#404040" marker-end="url(#aR)"/>
<path class="ln" d="M1612,207H1560V162" stroke="#404040" marker-end="url(#aR)"/>
<path class="ln" d="M1688,207H1734a3,3 0 0 1 6,0H1755a3,3 0 0 1 6,0H1789" stroke="#404040" marker-end="url(#aR)"/>
<text class="c halo" x="1589" y="209.5" style="font-size:7.5px;stroke-width:3px">(0,*)</text>
<text class="c halo" x="1705" y="209.5" style="font-size:7.5px;stroke-width:3px">(0,*)</text>
<path class="ln" d="M1865,131.5H1905" stroke="#404040" marker-end="url(#aR)"/>
<path class="ln" d="M1865,207.5H1905" stroke="#404040" marker-end="url(#aR)"/>
<path class="ln" d="M1865,281H1905" stroke="#404040" marker-end="url(#aR)"/>
<path class="ln" d="M1865,353H1905" stroke="#404040" marker-end="url(#aR)"/>
<path class="ln" d="M1980,116H2058" stroke="#404040" marker-end="url(#aR)"/>
<path class="ln" d="M2055,116H2067" stroke="#404040" marker-end="url(#aR)"/>
<path class="ln" d="M1980,192H2008M1980,266H2008M1980,333H2008M2008,116V333" stroke="#404040"/>
<path class="bl" d="M1980,146H2005a3,3 0 0 1 6,0H2029V370M1980,222H2005a3,3 0 0 1 6,0H2029M1980,370H2029" stroke="#1F86E0"/>
<path class="bl" d="M1980,296H2005a3,3 0 0 1 6,0H2068" stroke="#1F86E0" marker-end="url(#aRb)"/>
<path class="ln" d="M2106,86V67" stroke="#404040" marker-end="url(#aR)"/>
<path class="ln" d="M2145,116H2193" stroke="#000" marker-end="url(#aR)"/>
<path class="ln" d="M2231,192V165" stroke="#404040" marker-end="url(#aR)"/>
<path class="bl" d="M2106,266V238" stroke="#1F86E0" marker-end="url(#aRb)"/>
<path class="bl" d="M2106,175V147" stroke="#1F86E0" marker-end="url(#aRb)"/>
</g>

<g id="R-title"><rect class="fr" x="1489" y="6" width="394" height="30" stroke="#000"/><text class="c b" x="1686" y="25" style="font-size:10.5px" textLength="335" lengthAdjust="spacingAndGlyphs">S-201 Operational Interaction Diagram, Draft 0.5, 09/01/2024</text></g>

<g id="R-t201"><rect class="n tk" x="1522" y="101" width="77" height="61" rx="5"/><text class="c" x="1560.5" y="134.8">S-201 Task</text></g>
<g id="R-p201"><rect class="n re" x="1626" y="101" width="76" height="61" rx="5"/><text class="c" x="1664" y="115.3">S-201<tspan x="1664" dy="13">Aids to</tspan><tspan x="1664" dy="13">Navigation</tspan><tspan x="1664" dy="13">Information</tspan></text></g>
<g id="R-aton"><rect class="n ye" x="1612" y="192" width="76" height="30" rx="15"/><text class="c" x="1650" y="210.3">ATON Event</text></g>
<g id="R-t101"><rect class="n tk" x="1789" y="101" width="76" height="61" rx="5"/><text class="c" x="1827" y="134.8">S-101 Task</text></g>
<g id="R-t124"><rect class="n tk" x="1789" y="177" width="76" height="61" rx="5"/><text class="c" x="1827" y="210.8">S-124 Task</text></g>
<g id="R-t125"><rect class="n tk" x="1789" y="251" width="76" height="60" rx="5"/><text class="c" x="1827" y="284.3">S-125 Task</text></g>
<g id="R-t401"><rect class="n tk" x="1789" y="323" width="76" height="60" rx="5"/><text class="c" x="1827" y="356.3">S-401 Task</text></g>
<g id="R-p101"><rect class="n bu" x="1905" y="101" width="75" height="61" rx="5"/><text class="c" x="1942.5" y="115.3">S-101<tspan x="1942.5" dy="13">Electronic</tspan><tspan x="1942.5" dy="13">Navigational</tspan><tspan x="1942.5" dy="13">Chart (ENC)</tspan></text></g>
<g id="R-p124"><rect class="n bu" x="1905" y="177" width="75" height="61" rx="5"/><text class="c" x="1942.5" y="197.8">S-124<tspan x="1942.5" dy="13">Navigational</tspan><tspan x="1942.5" dy="13">Warnings</tspan></text></g>
<g id="R-p125"><rect class="n te" x="1905" y="251" width="75" height="60" rx="5"/><text class="c" x="1942.5" y="271.3">S-125<tspan x="1942.5" dy="13">Marine Aids to</tspan><tspan x="1942.5" dy="13">Navigation</tspan></text></g>
<g id="R-p401"><rect class="n re" x="1905" y="323" width="75" height="60" rx="5"/><text class="c" x="1942.5" y="349.8">S-401<tspan x="1942.5" dy="13">IEHG Inland ENC</tspan></text></g>
<g id="R-otherud"><rect class="n dt" x="2067" y="6" width="75" height="61" rx="5"/><text class="c w" x="2104.5" y="20.3">Other<tspan x="2104.5" dy="13">User Display</tspan><tspan x="2104.5" dy="13">e.g. Inland</tspan><tspan x="2104.5" dy="13">ECDIS</tspan></text></g>
<g id="R-ts"><rect class="n gr" x="2077" y="98" width="68" height="49" rx="5"/><rect class="n gr" x="2072" y="92" width="68" height="49" rx="5"/><rect class="n gr" x="2067" y="86" width="68" height="49" rx="5"/><text class="c" x="2101" y="107.3">Technical<tspan x="2101" dy="13">Services</tspan></text></g>
<g id="R-s128cat"><rect class="n nv" x="2068" y="175" width="76" height="63" rx="5"/><text class="c w" x="2106" y="190.3">S-128<tspan x="2106" dy="13">Catalogue of</tspan><tspan x="2106" dy="13">Nautical</tspan><tspan x="2106" dy="13">Products</tspan></text></g>
<g id="R-s128task"><rect class="n tk" x="2068" y="266" width="76" height="60" rx="5"/><text class="c" x="2106" y="299.3">S-128 Task</text></g>
<g id="R-ecdis"><rect class="ec" x="2169" y="67" width="140" height="208" stroke-width="1.3"/><text x="2175" y="84" style="font-size:10.5px">ECDIS</text></g>
<g id="R-ud"><rect class="n dt" x="2193" y="104" width="76" height="61" rx="5"/><text class="c w" x="2231" y="137.8">User Display</text></g>
<g id="R-s98"><rect class="n nv" x="2193" y="192" width="76" height="61" rx="5"/><text class="c w" x="2231" y="212.8">S-98<tspan x="2231" dy="13">Interoperability</tspan><tspan x="2231" dy="13">Catalog</tspan></text></g>

<g id="R-legend">
<rect class="fr" x="1491" y="402" width="433" height="209" stroke-width="1.3"/>
<text x="1498" y="420" style="font-size:10.5px">Legend</text>
<rect class="n bu" x="1518" y="439" width="76" height="61" rx="5"/><text class="c" x="1556" y="466.3">Phase 1 - Route<tspan x="1556" dy="13">Monitoring</tspan></text>
<rect class="n te" x="1618" y="439" width="76" height="61" rx="5"/><text class="c" x="1656" y="466.3">Phase 2 - Route<tspan x="1656" dy="13">Planning</tspan></text>
<rect class="n nv" x="1717" y="439" width="76" height="61" rx="5"/><text class="c w" x="1755" y="466.3">Critical<tspan x="1755" dy="13">Framework</tspan></text>
<rect class="n re" x="1817" y="439" width="76" height="61" rx="5"/><text class="c" x="1855" y="459.8">Other S-100<tspan x="1855" dy="13">Product</tspan><tspan x="1855" dy="13">Specification</tspan></text>
<path class="ln" d="M1636,518H1758" stroke-width="1.3" marker-end="url(#aR)"/>
<text class="c halo" x="1697" y="521.2" style="font-size:9px;stroke-width:3px">Data Flow</text>
<path class="lbl" d="M1636,534H1758" stroke-width="1.8" marker-end="url(#aRb)"/>
<text class="c halo" x="1697" y="537.2" style="font-size:9px;stroke-width:3px">Metadata Flow</text>
<text style="font-size:9.1px">
<tspan x="1516" y="560.3">NOTE: An ATON Event includes navigation safety information such as AtoN casualties</tspan>
<tspan x="1516" y="571.3">or changes which may impact navigational safety; notification of temporary changes,</tspan>
<tspan x="1516" y="582.3">advanced notice of changes, and proposed changes to ATON. Tasks associated with an</tspan>
<tspan x="1516" y="593.3">ATON Event may be completed independently, sequentially, or  concurrently.  See the</tspan>
<tspan x="1516" y="604.3">Sequence Diagram below.</tspan>
</text>
</g>

<g id="R-seqframe"><rect x="1489" y="672" width="830" height="600" fill="none" stroke="#7F7F7F" stroke-width="1.5"/><text x="1496" y="689" style="font-size:10.5px">S-124, S-125, S-101 Sequence Diagram</text></g>

<g id="connectors-sequence" stroke-width="1.3">
<path d="M1732,716Q1716,716 1716,732V760Q1716,771 1703,771Q1716,771 1716,782V961Q1716,977 1732,977" fill="none" stroke="#000" stroke-width="1.2"/>
<path class="ln" d="M1822,750H2000" stroke="#000" marker-end="url(#aR)"/>
<path class="ln" d="M1822,845H2000" stroke="#000" marker-end="url(#aR)"/>
<path class="ln" d="M1822,945H2000" stroke="#000" marker-end="url(#aR)"/>
<path class="ln" d="M2062,879V812" stroke="#000" marker-end="url(#aR)"/>
<rect x="1886" y="737" width="50" height="26" fill="#fff"/>
<rect x="1886" y="832" width="50" height="26" fill="#fff"/>
<rect x="1886" y="932" width="50" height="26" fill="#fff"/>
<text class="c" x="1911" y="748.3">S-124 Data<tspan x="1911" dy="12">S1 &amp; S3</tspan></text>
<text class="c" x="1911" y="842.3">S-125 Data<tspan x="1911" dy="12">S2 &amp; S5</tspan></text>
<text class="c" x="1911" y="942.3">S-101 Data<tspan x="1911" dy="12">S4 &amp; S6</tspan></text>
</g>
<g id="R-seq-aton"><rect class="n ye" x="1624" y="759" width="76" height="24" rx="12"/><text class="c" x="1662" y="774.3">ATON Event</text></g>
<g id="R-seq-s124"><rect class="n bu" x="1746" y="714" width="76" height="64" rx="5"/><text class="c" x="1784" y="736.3">S-124<tspan x="1784" dy="13">Navigational</tspan><tspan x="1784" dy="13">Warnings</tspan></text></g>
<g id="R-seq-s125"><rect class="n te" x="1746" y="815" width="76" height="63" rx="5"/><text class="c" x="1784" y="836.8">S-125<tspan x="1784" dy="13">Marine Aids to</tspan><tspan x="1784" dy="13">Navigation</tspan></text></g>
<g id="R-seq-s101"><rect class="n bu" x="1746" y="915" width="76" height="63" rx="5"/><text class="c" x="1784" y="930.3">S-101<tspan x="1784" dy="13">Electronic</tspan><tspan x="1784" dy="13">Navigational</tspan><tspan x="1784" dy="13">Chart (ENC)</tspan></text></g>
<g id="R-seq-f1"><path d="M1760.8,790A24.5,24.5 0 1 1 1760.8,802" fill="none" stroke="#000" stroke-width="1.1" marker-start="url(#aF)" marker-end="url(#aF)"/><text class="c" x="1784.5" y="799.3">F1</text></g>
<g id="R-seq-f2"><path d="M1760.8,891A24.5,24.5 0 1 1 1760.8,903" fill="none" stroke="#000" stroke-width="1.1" marker-start="url(#aF)" marker-end="url(#aF)"/><text class="c" x="1784.5" y="900.3">F2</text></g>
<g id="R-seq-ecdis"><rect class="ec" x="2000" y="714" width="125" height="262" stroke="#404040" stroke-width="1.3"/><text x="2006" y="731" style="font-size:10.5px">ECDIS</text></g>
<g id="R-seq-ud"><rect class="n dt" x="2024" y="755" width="76" height="57" rx="5"/><text class="c w" x="2062" y="786.8">User Display</text></g>
<g id="R-seq-s98"><rect class="n nv" x="2024" y="879" width="76" height="57" rx="5"/><text class="c w" x="2062" y="897.8">S-98<tspan x="2062" dy="13">Interoperability</tspan><tspan x="2062" dy="13">Catalog</tspan></text></g>

<g id="R-paragraph" style="font-size:9.8px">
<text x="1532" y="1008.5" textLength="740">This diagram highlights one of several possible sequence scenarios. The diagram starts with an AtoN Event, such as a discrepancy report, and the creation</text>
<text x="1532" y="1021.7" textLength="700">of an S124 dataset (S1) created and sent to end users. The S124 dataset is received on the end user display using the appropriate communication</text>
<text x="1532" y="1034.9" textLength="735">channel. Within a defined time, e.g.: same day, the incident is analysed by the AtoN authority through the F1 feedback loop,  which confirms the incident</text>
<text x="1532" y="1048.1" textLength="740">and generates an S125 dataset (S2) issued the next day, as per the nationally defined data dissemination cycle, and then received by the end user display.</text>
<text x="1532" y="1061.3" textLength="722">The publication of the S125 dataset triggers the S124 service via the F1 feedback loop to issue a cancellation dataset (S3) which is received by the end</text>
<text x="1532" y="1074.5" textLength="731">user display. There may be a period of several hours where the incident information is available in the end user system as both S124 and S125 datasets.</text>
<text x="1532" y="1087.7" textLength="698">Fine tuning the F1 feedback loop can virtually eliminate duplication. Moreover, the end user can be trained to easily understand the relationship</text>
<text x="1532" y="1100.9" textLength="739">between the services by way of visualization since S124 will be quite basic, while S125 will be specific to the AtoN information. The issue contained in the</text>
<text x="1532" y="1114.1" textLength="694">S-125 dataset (S2) is picked up in the feedback loop F2 and the ENC service is notified. A dialogue between the S125 service and the ENC service</text>
<text x="1532" y="1127.3" textLength="707">concludes that the incident will persist for a sufficient period resulting in a temporary NtM and a revision (S4) to the relevant ENC. The issue of the</text>
<text x="1532" y="1140.5" textLength="738">revision triggers feedback loop F2, which initiates a dialogue between the S125 service and the ENC service and a decision is taken to maintain both S125</text>
<text x="1532" y="1153.7" textLength="740">dataset S2 and ENC dataset S4, since it gives an amplification for the end user to the seriousness of the incident. A period of time passes, and the incident</text>
<text x="1532" y="1166.9" textLength="734">is resolved, triggering the S125 service to remove the incident from its service. This triggers feedback loop F2, which results in the ENC service issuing an</text>
<text x="1532" y="1180.1" textLength="331">ENC revision (S6), which remove the temporary notice from the ENC.</text>
</g>
</g>
</svg>
